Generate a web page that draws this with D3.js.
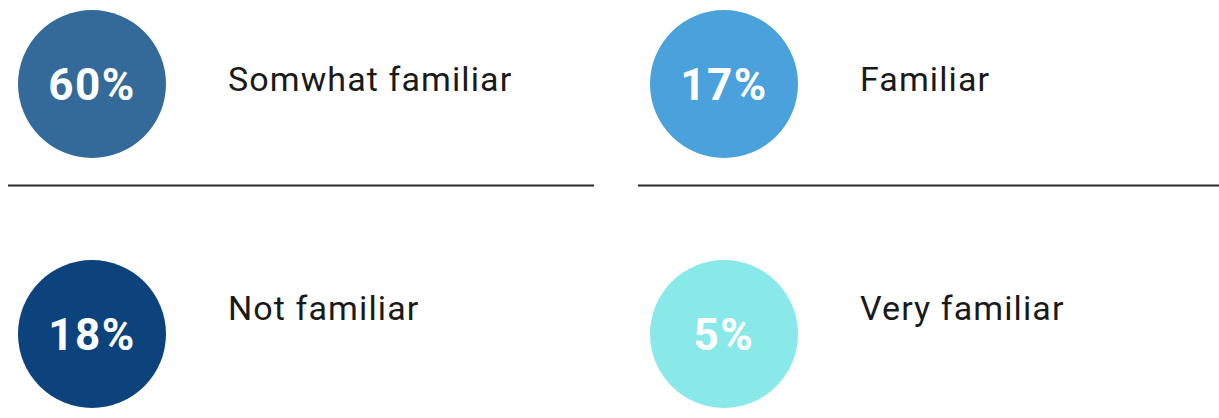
<!DOCTYPE html>
<html>
<head>
<meta charset="utf-8">
<script src="https://cdn.jsdelivr.net/npm/d3@7"></script>
<style>
  html, body { margin: 0; padding: 0; background: #fff; }
  svg { display: block; }
</style>
</head>
<body>
<div id="chart"></div>
<script>
const categories = ['Somwhat familiar', 'Familiar', 'Not familiar', 'Very familiar']
const values = [60, 17, 18, 5]
const colors = ['#346a9a', '#4aa1db', '#0c437d', '#88e9e8']

const width = 1219
const height = 418
const radius = 74

const svg = d3.select('#chart')
  .append('svg')
  .attr('width', width)
  .attr('height', height)

// two columns, two rows
const xScale = d3.scalePoint().domain([0, 1]).range([92, 724])
const yScale = d3.scalePoint().domain([0, 1]).range([84, 334])
const labelDy = [-5, -26]

const items = categories.map((c, i) => ({
  label: c,
  value: values[i],
  color: colors[i],
  col: i % 2,
  row: Math.floor(i / 2)
}))

// divider lines between the rows
svg.selectAll('line.divider')
  .data([[8, 594], [638, 1219]])
  .enter()
  .append('line')
  .attr('class', 'divider')
  .attr('x1', d => d[0])
  .attr('x2', d => d[1])
  .attr('y1', 185.5)
  .attr('y2', 185.5)
  .attr('stroke', '#2b2b2b')
  .attr('stroke-width', 2)

const g = svg.selectAll('g.item')
  .data(items)
  .enter()
  .append('g')
  .attr('class', 'item')
  .attr('transform', d => `translate(${xScale(d.col)},${yScale(d.row)})`)

g.append('circle')
  .attr('r', radius)
  .attr('fill', d => d.color)

g.append('text')
  .text(d => d.value + '%')
  .attr('text-anchor', 'middle')
  .attr('dy', '0.36em')
  .attr('fill', '#fff')
  .style('font-family', 'Roboto, sans-serif')
  .style('font-weight', 700)
  .style('font-size', '44px')
  .style('letter-spacing', '1.5px')

g.append('text')
  .text(d => d.label)
  .attr('x', 136)
  .attr('y', d => labelDy[d.row])
  .attr('dy', '0.36em')
  .attr('fill', '#1a1a1a')
  .style('font-family', 'Roboto, sans-serif')
  .style('font-size', '34px')
  .style('letter-spacing', '1.1px')
</script>
</body>
</html>
